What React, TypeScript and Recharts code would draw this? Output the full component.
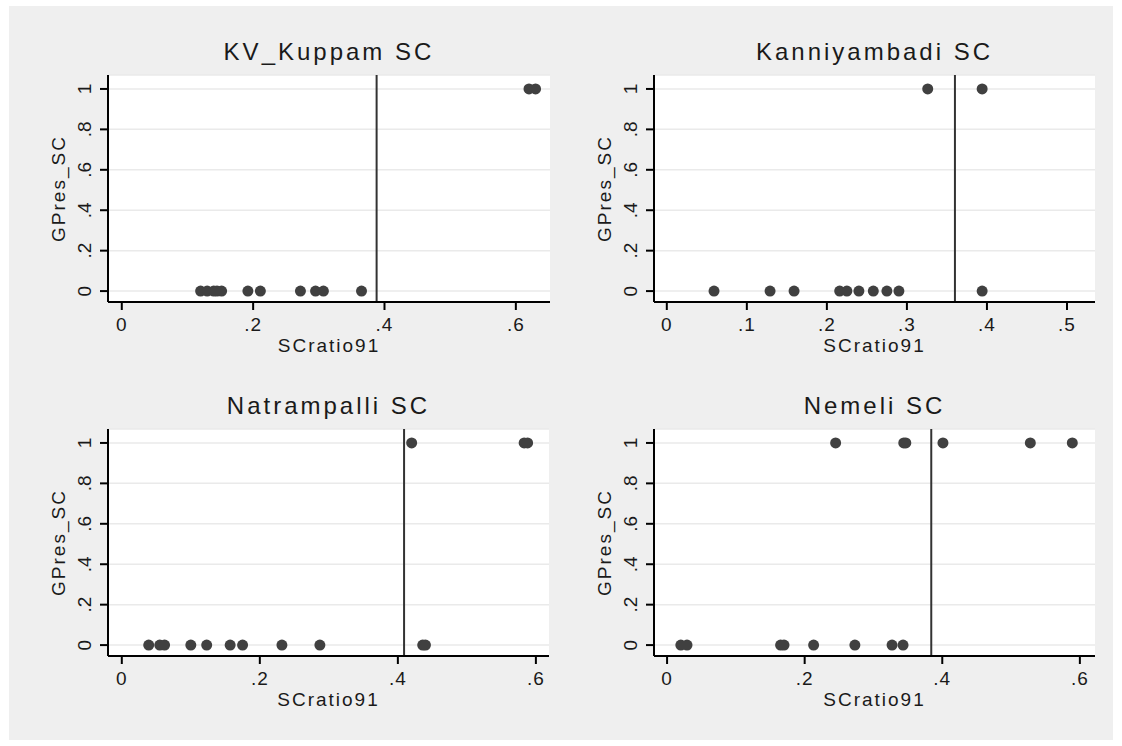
import React from 'react';
import { ScatterChart, Scatter, XAxis, YAxis, CartesianGrid, ReferenceLine, Label } from 'recharts';

// ---- data ----
const panelTitles = ['KV_Kuppam SC', 'Kanniyambadi SC', 'Natrampalli SC', 'Nemeli SC'];

const kvZeroX = [0.12, 0.13, 0.14, 0.145, 0.152, 0.192, 0.211, 0.272, 0.295, 0.307, 0.365];
const kvOneX = [0.62, 0.63];
const kvCut = 0.388;

const kanZeroX = [0.059, 0.129, 0.159, 0.216, 0.225, 0.24, 0.258, 0.275, 0.29, 0.394];
const kanOneX = [0.326, 0.394];
const kanCut = 0.36;

const natZeroX = [0.039, 0.055, 0.062, 0.1, 0.123, 0.157, 0.175, 0.232, 0.287, 0.436, 0.44];
const natOneX = [0.42, 0.583, 0.588];
const natCut = 0.409;

const nemZeroX = [0.02, 0.029, 0.165, 0.17, 0.213, 0.273, 0.327, 0.343];
const nemOneX = [0.245, 0.344, 0.347, 0.401, 0.528, 0.589];
const nemCut = 0.384;

const yTicks = [0, 0.2, 0.4, 0.6, 0.8, 1];
const xTicksWide = [0, 0.2, 0.4, 0.6];
const xTicksKan = [0, 0.1, 0.2, 0.3, 0.4, 0.5];

const xTitle = 'SCratio91';
const yTitle = 'GPres_SC';

const build = (zeros: number[], ones: number[]) => [
  ...zeros.map((x) => ({ x, y: 0 })),
  ...ones.map((x) => ({ x, y: 1 })),
];

const panels = [
  { title: panelTitles[0], data: build(kvZeroX, kvOneX), cut: kvCut, domain: [-0.021, 0.652], ticks: xTicksWide, left: 10, top: 10, right: 20 },
  { title: panelTitles[1], data: build(kanZeroX, kanOneX), cut: kanCut, domain: [-0.016, 0.535], ticks: xTicksKan, left: 556, top: 10, right: 21 },
  { title: panelTitles[2], data: build(natZeroX, natOneX), cut: natCut, domain: [-0.02, 0.619], ticks: xTicksWide, left: 10, top: 364, right: 21 },
  { title: panelTitles[3], data: build(nemZeroX, nemOneX), cut: nemCut, domain: [-0.019, 0.622], ticks: xTicksWide, left: 556, top: 364, right: 21 },
];

const FONT = '"Liberation Sans", Arial, sans-serif';
const TXT = '#1a1a1a';
const fmt = (v: number) => (v === 0 ? '0' : v === 1 ? '1' : String(v).replace(/^0/, ''));

const YTick = (props: any) => {
  const { x, y, payload } = props;
  return (
    <text
      x={x - 13}
      y={y}
      transform={`rotate(-90, ${x - 13}, ${y})`}
      textAnchor="middle"
      dominantBaseline="central"
      fontSize={19}
      fontFamily={FONT}
      fill={TXT}
    >
      {fmt(payload.value)}
    </text>
  );
};

const XTick = (props: any) => {
  const { x, y, payload } = props;
  return (
    <text x={x} y={y} dy="0.71em" textAnchor="middle" fontSize={19} fontFamily={FONT} fill={TXT} letterSpacing={1}>
      {fmt(payload.value)}
    </text>
  );
};

const Dot = (props: any) => <circle cx={props.cx} cy={props.cy} r={5.5} fill="#404040" />;

const W = 560;
const H = 370;

function Panel({ p }: { p: any }) {
  return (
    <div style={{ position: 'absolute', left: p.left, top: p.top, width: W, height: H }}>
      <div
        style={{
          position: 'absolute',
          left: 98,
          width: W - 98 - p.right,
          top: 30,
          textAlign: 'center',
          fontFamily: FONT,
          fontSize: 24,
          letterSpacing: 3,
          lineHeight: '24px',
          color: TXT,
        }}
      >
        {p.title}
      </div>
      <ScatterChart width={W} height={H} margin={{ top: 65, right: p.right, bottom: 38, left: 0 }}>
        <CartesianGrid horizontal vertical={false} stroke="#eaeaea" strokeWidth={1.5} fill="#ffffff" />
        <XAxis
          type="number"
          dataKey="x"
          domain={p.domain}
          ticks={p.ticks}
          allowDataOverflow
          height={40}
          tickSize={8}
          tickMargin={8}
          stroke="#000"
          strokeWidth={2}
          tick={<XTick />}
          tickLine={{ stroke: '#000', strokeWidth: 2 }}
        >
          <Label
            content={(lp: any) => {
              const vb = lp.viewBox || {};
              return (
                <text
                  x={vb.x + vb.width / 2}
                  y={vb.y + 43}
                  textAnchor="middle"
                  dominantBaseline="central"
                  fontSize={19}
                  fontFamily={FONT}
                  letterSpacing={2}
                  fill={TXT}
                >
                  {xTitle}
                </text>
              );
            }}
          />
        </XAxis>
        <YAxis
          type="number"
          dataKey="y"
          domain={[-0.054, 1.069]}
          ticks={yTicks}
          allowDataOverflow
          width={98}
          tickSize={8}
          tickMargin={2}
          tick={<YTick />}
          stroke="#000"
          strokeWidth={2}
          tickLine={{ stroke: '#000', strokeWidth: 2 }}
        >
          <Label
            content={(lp: any) => {
              const vb = lp.viewBox || {};
              const cx = vb.x + vb.width - 50;
              const cy = vb.y + vb.height / 2;
              return (
                <text
                  x={cx}
                  y={cy}
                  transform={`rotate(-90, ${cx}, ${cy})`}
                  textAnchor="middle"
                  dominantBaseline="central"
                  fontSize={19}
                  fontFamily={FONT}
                  letterSpacing={2}
                  fill={TXT}
                >
                  {yTitle}
                </text>
              );
            }}
          />
        </YAxis>
        <ReferenceLine x={p.cut} stroke="#333333" strokeWidth={2} ifOverflow="hidden" />
        <Scatter data={p.data} shape={<Dot />} isAnimationActive={false} />
      </ScatterChart>
    </div>
  );
}

export default function App() {
  return (
    <div style={{ position: 'absolute', left: 0, top: 0, width: 1122, height: 746, background: '#ffffff' }}>
      <div style={{ position: 'absolute', left: 9, top: 6, width: 1104, height: 734, background: '#efefef' }} />
      {panels.map((p) => (
        <Panel key={p.title} p={p} />
      ))}
    </div>
  );
}
